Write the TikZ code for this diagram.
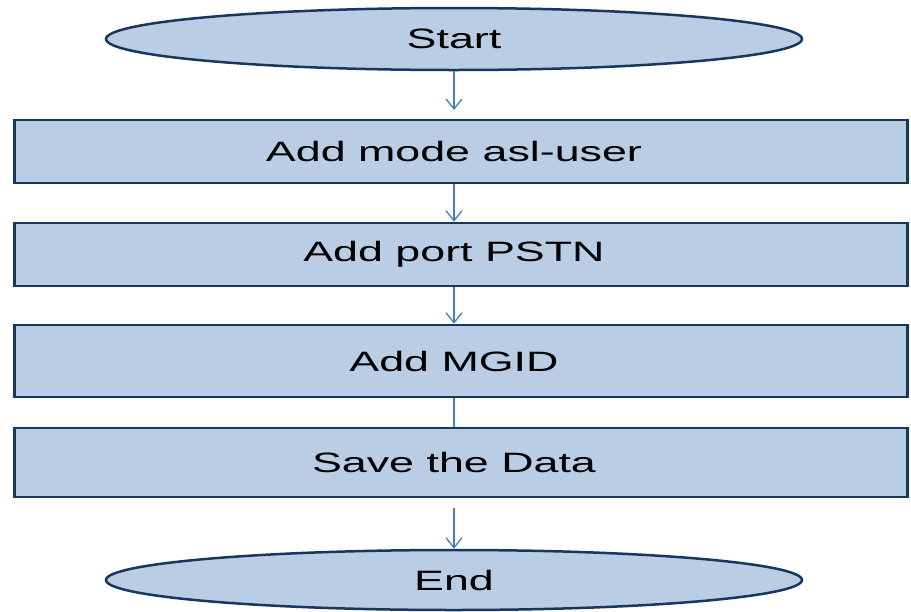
\documentclass[tikz,border=0pt]{standalone}
\usepackage{fontspec}
\setmainfont{Liberation Sans}
\usetikzlibrary{shapes.geometric,arrows.meta}
\definecolor{boxfill}{HTML}{B9CDE5}
\definecolor{boxline}{HTML}{17375E}
\definecolor{arrowc}{HTML}{4A7EBB}
\tikzset{
  lbl/.style={font=\fontsize{28}{30}\selectfont},
  termnode/.style={ellipse, draw=boxline, fill=boxfill, line width=2.5pt,
    minimum width=696pt, minimum height=62pt, inner sep=0pt},
  procbox/.style={rectangle, draw=boxline, fill=boxfill, line width=2.5pt,
    minimum width=893pt, inner sep=0pt},
  flow/.style={draw=arrowc, line width=1.3pt, -{Straight Barb[length=10pt,width=16pt,line width=1.3pt]}},
  flowline/.style={draw=arrowc, line width=1.3pt}
}
\newcommand{\wide}[1]{\scalebox{1.6}[1]{#1}}
\begin{document}
\begin{tikzpicture}[x=1pt,y=-1pt]
\useasboundingbox (0,0) rectangle (911,611);
\fill[white] (0,0) rectangle (911,611);
\node[termnode] (start) at (454,39) {};
\node[lbl] at (start.center) {\wide{Start}};
\node[procbox, minimum height=63pt] (b1) at (461,151.5) {};
\node[lbl] at (454,151.5) {\wide{Add mode asl-user}};
\node[procbox, minimum height=63pt] (b2) at (461,254.5) {};
\node[lbl] at (454,254.5) {\wide{Add port PSTN}};
\node[procbox, minimum height=72pt] (b3) at (461,361) {};
\node[lbl] at (454,361) {\wide{Add MGID}};
\node[procbox, minimum height=69pt] (b4) at (461,462.5) {};
\node[lbl] at (454,462.5) {\wide{Save the Data}};
\node[termnode, minimum height=60pt] (end) at (454,580) {};
\node[lbl] at (end.center) {\wide{End}};
\coordinate (a1) at (454,110);
\coordinate (a4) at (454,508);
\draw[flow] (start.south) -- (a1);
\draw[flow] (b1.south -| start.south) -- (b2.north -| start.south);
\draw[flow] (b2.south -| start.south) -- (b3.north -| start.south);
\draw[flowline] (b3.south -| start.south) -- (b4.north -| start.south);
\draw[flow] (a4) -- (end.north);
\end{tikzpicture}
\end{document}
